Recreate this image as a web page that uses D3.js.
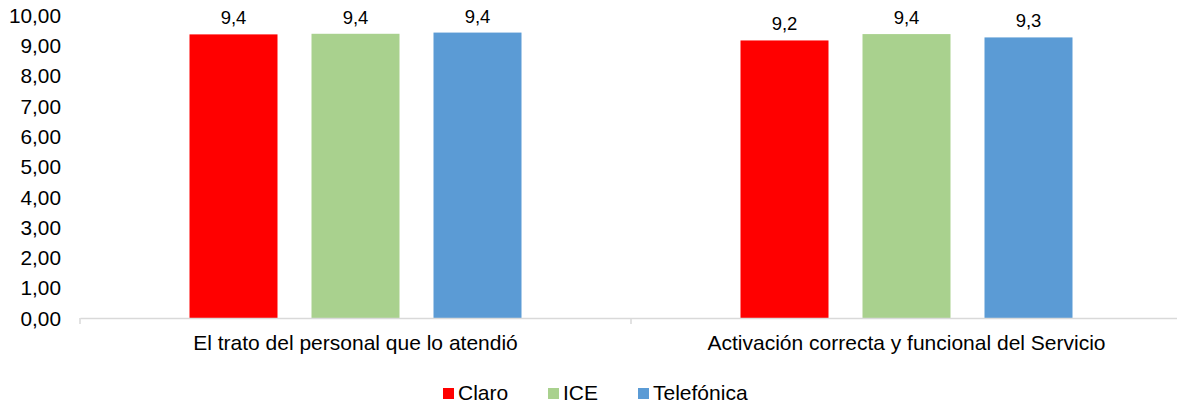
<!DOCTYPE html>
<html><head><meta charset="utf-8">
<script src="https://cdn.jsdelivr.net/npm/d3@7"></script>
<style>body{margin:0;background:#fff}svg{display:block}text{font-family:"Liberation Sans",Arial,sans-serif;fill:#000}</style>
</head><body><div id="chart"></div>
<script>
const categories = ["El trato del personal que lo atendió", "Activación correcta y funcional del Servicio"];
const seriesNames = ["Claro", "ICE", "Telefónica"];
const seriesColors = ["#FF0000", "#A9D18E", "#5B9BD5"];
const claro = [9.36, 9.16];
const ice = [9.38, 9.37];
const telefonica = [9.42, 9.26];
const yTicks = [0,1,2,3,4,5,6,7,8,9,10];

const seriesValues = [claro, ice, telefonica];
const W = 1177, H = 406;
const m = {left: 80, right: -5, top: 15, bottom: 88};
const svg = d3.select("#chart").append("svg").attr("width", W).attr("height", H);

const x0 = d3.scaleBand().domain(categories).range([m.left, W - m.right]).paddingInner(0).paddingOuter(0);
const bw = x0.bandwidth();
const groupW = 332;
const x1 = d3.scaleBand().domain(seriesNames)
  .range([(bw - groupW) / 2, (bw + groupW) / 2]).paddingInner(34 / 122).paddingOuter(0);
const y = d3.scaleLinear().domain([0, 10]).range([H - m.bottom, m.top]);

const fmt2 = v => d3.format(".2f")(v).replace(".", ",");
const fmt1 = v => d3.format(".1f")(v).replace(".", ",");

// y axis labels
const yAxis = d3.axisLeft(y).tickValues(yTicks).tickFormat(fmt2).tickSize(0).tickPadding(19);
const gy = svg.append("g").attr("transform", `translate(${m.left},0)`).call(yAxis);
gy.select(".domain").remove();
gy.selectAll("text").style("font-size", "20.8px").attr("font-family", null).attr("dy", "0.35em");

// bars
const groups = svg.append("g").selectAll("g").data(categories).join("g")
  .attr("transform", d => `translate(${x0(d)},0)`);
groups.selectAll("rect").data((c, i) => seriesNames.map((s, k) => ({s, k, v: seriesValues[k][i]})))
  .join("rect")
  .attr("x", d => x1(d.s)).attr("width", x1.bandwidth())
  .attr("y", d => y(d.v)).attr("height", d => y(0) - y(d.v))
  .attr("fill", d => seriesColors[d.k]);
groups.selectAll("text.val").data((c, i) => seriesNames.map((s, k) => ({s, k, v: seriesValues[k][i]})))
  .join("text").attr("class", "val")
  .attr("x", d => x1(d.s) + x1.bandwidth() / 2).attr("y", d => y(d.v) - 10)
  .attr("text-anchor", "middle").style("font-size", "18.5px").text(d => fmt1(d.v));

// x axis
const xAxis = d3.axisBottom(x0).tickSize(0).tickPadding(17);
const gx = svg.append("g").attr("transform", `translate(0,${y(0)})`).call(xAxis);
gx.select(".domain").attr("stroke", "#D9D9D9").attr("stroke-width", 1.5);
gx.selectAll("text").style("font-size", "21px").attr("font-family", null);
// category separators
const sepX = [m.left, ...categories.slice(1).map(c => x0(c))];
gx.selectAll("line.sep").data(sepX).join("line").attr("class", "sep")
  .attr("x1", d => d).attr("x2", d => d).attr("y1", 0).attr("y2", 6)
  .attr("stroke", "#D9D9D9").attr("stroke-width", 1.5);

// legend
const legX = [443, 548, 638];
const leg = svg.append("g").selectAll("g").data(seriesNames).join("g")
  .attr("transform", (d, i) => `translate(${legX[i]},388)`);
leg.append("rect").attr("width", 11).attr("height", 11).attr("fill", (d, i) => seriesColors[i]);
leg.append("text").attr("x", 15).attr("y", 12).style("font-size", "21px").text(d => d);
</script></body></html>
